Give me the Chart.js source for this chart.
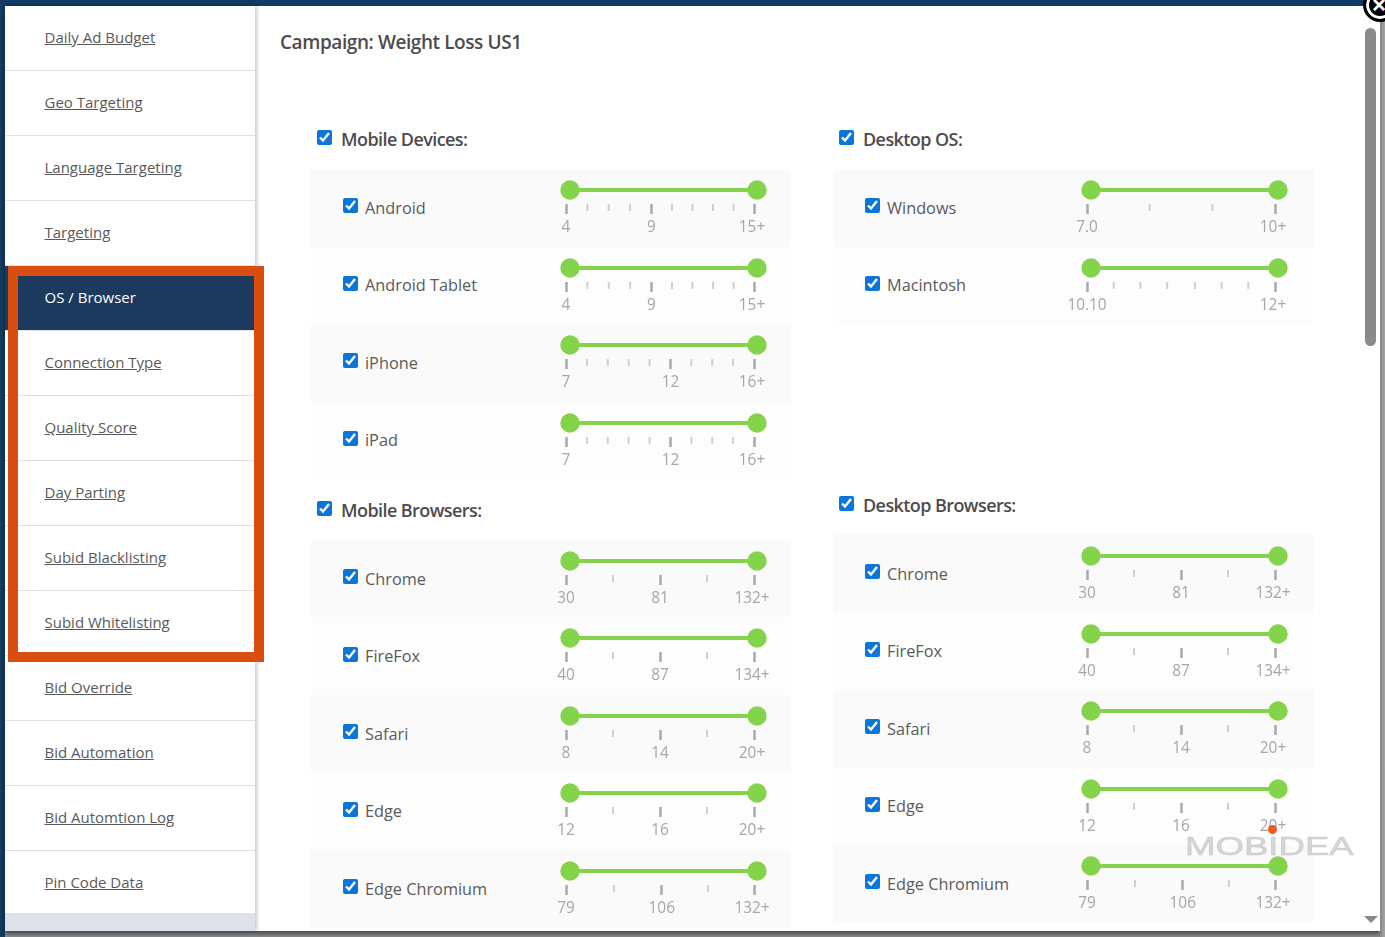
<!DOCTYPE html>
<html>
<head>
<meta charset="utf-8">
<script src="https://cdn.jsdelivr.net/npm/chart.js@4"></script>
<style>
html, body { margin: 0; padding: 0; width: 1385px; height: 937px; overflow: hidden; background: linear-gradient(#666a70, #8b8c8e); font-family: "Open Sans", sans-serif; color: #555; }
div, canvas, input, a { position: absolute; box-sizing: border-box; }
canvas { display: block; }
#topbar { left: 0; top: 0; width: 1385px; height: 7px; background: #0f3a63; }
#leftbar { left: 0; top: 0; width: 5px; height: 937px; background: #123c60; }
#modal { left: 5px; top: 6px; width: 1375px; height: 925px; background: #fff; box-shadow: 0 3px 4px rgba(0,0,0,.45); }
#sidebar { left: 5px; top: 6px; width: 250px; height: 925px; background: #dde1e9; box-shadow: 2px 0 4px rgba(0,0,0,.22); }
.item { left: 0; width: 250px; height: 65px; background: #fff; border-bottom: 1px solid #dfe1ea; }
.item a { left: 39.5px; top: 20px; font-size: 15px; line-height: 22px; color: #5a5a5a; text-decoration: underline; white-space: nowrap; }
.item.on { background: #1c3a5e; }
.item.on a { color: #fff; text-decoration: none; }
#frame { left: 8px; top: 266px; width: 256px; height: 396px; border: 10px solid #d84e10; }
#title { left: 280px; top: 28px; font-size: 19px; line-height: 28px; font-weight: 600; letter-spacing: -.42px; white-space: nowrap; color: #4c4c4c; }
.head { font-size: 18px; line-height: 26px; font-weight: 600; letter-spacing: -.58px; white-space: nowrap; color: #4c4c4c; }
.row { width: 480px; height: 78px; }
.name { font-size: 16.3px; line-height: 24px; white-space: nowrap; color: #5a5a5a; }
input { margin: 0; width: 15px; height: 15px; accent-color: #0b76d9; }
#thumb { left: 1365px; top: 28px; width: 11px; height: 318px; background: #8a8a8a; border-radius: 6px; }
#stripe { left: 1380px; top: 18px; width: 5px; height: 919px; background: linear-gradient(90deg, #868686, #a6a6a6); }
#arrow { left: 1364px; top: 916px; width: 0; height: 0; border-left: 7px solid transparent; border-right: 7px solid transparent; border-top: 7px solid #8a8a8a; }
#close { left: 1363px; top: -12px; width: 34px; height: 34px; border-radius: 50%; background: #000; border: 3px solid #000; box-shadow: inset 0 0 0 3px #fff; color: #fff; font: bold 24px/28px "Liberation Sans", sans-serif; text-align: left; padding-left: 6px; }
#mark { left: 1185px; top: 826px; font: 29px/40px "Liberation Sans", sans-serif; -webkit-text-stroke: .6px rgba(190,190,190,.7); color: rgba(190,190,190,.62); transform-origin: 0 50%; transform: scaleX(1.262) scaleY(.92); white-space: nowrap; }
#dot { left: 1268px; top: 825px; width: 9px; height: 9px; border-radius: 50%; background: #f0591f; }
</style>
</head>
<body>
<div id="topbar"></div>
<div id="leftbar"></div>
<div id="modal"></div>
<div id="sidebar"></div>
<div id="frame"></div>
<div id="title">Campaign: Weight Loss US1</div>
<div id="thumb"></div>
<div id="stripe"></div>
<div id="arrow"></div>
<div id="close">×</div>
<script>
var menuItems = ['Daily Ad Budget', 'Geo Targeting', 'Language Targeting', 'Targeting', 'OS / Browser', 'Connection Type', 'Quality Score', 'Day Parting', 'Subid Blacklisting', 'Subid Whitelisting', 'Bid Override', 'Bid Automation', 'Bid Automtion Log', 'Pin Code Data'];

var deviceNames = ['Android', 'Android Tablet', 'iPhone', 'iPad'];
var deviceMajor = [[4, 9, 15], [4, 9, 15], [7, 12, 16], [7, 12, 16]];
var deviceMinor = [
	[5.25, 6.5, 7.75, 10.2, 11.4, 12.6, 13.8],
	[5.25, 6.5, 7.75, 10.2, 11.4, 12.6, 13.8],
	[8, 9, 10, 11, 13, 14, 15],
	[8, 9, 10, 11, 13, 14, 15]
];
var deviceLabels = [['4', '9', '15+'], ['4', '9', '15+'], ['7', '12', '16+'], ['7', '12', '16+']];

var osNames = ['Windows', 'Macintosh'];
var osMajor = [[7, 10], [10.1, 12]];
var osMinor = [[8, 9], [10.37, 10.64, 10.91, 11.19, 11.46, 11.73]];
var osLabels = [['7.0', '10+'], ['10.10', '12+']];

var browserNames = ['Chrome', 'FireFox', 'Safari', 'Edge', 'Edge Chromium'];
var browserMajor = [[30, 81, 132], [40, 87, 134], [8, 14, 20], [12, 16, 20], [79, 106, 132]];
var browserMinor = [[55.5, 106.5], [63.5, 110.5], [11, 17], [14, 18], [92.5, 119]];
var browserLabels = [['30', '81', '132+'], ['40', '87', '134+'], ['8', '14', '20+'], ['12', '16', '20+'], ['79', '106', '132+']];

var green = '#83d34b';
var rowPitch = 77.6;

function addSidebar() {
	var sidebar = document.getElementById('sidebar');
	menuItems.forEach(function(label, i) {
		var item = document.createElement('div');
		item.className = 'item' + (label === 'OS / Browser' ? ' on' : '');
		item.style.top = (i * 65) + 'px';
		if (i === menuItems.length - 1) {
			item.style.height = '62px';
			item.style.borderBottom = '0';
		}
		var link = document.createElement('a');
		link.textContent = label;
		item.appendChild(link);
		sidebar.appendChild(item);
	});
}

function addCheck(left, top) {
	var box = document.createElement('input');
	box.type = 'checkbox';
	box.checked = true;
	box.style.left = left + 'px';
	box.style.top = top + 'px';
	document.body.appendChild(box);
}

function addHead(text, left, centerY) {
	addCheck(left + 5.5, centerY - 10);
	var head = document.createElement('div');
	head.className = 'head';
	head.textContent = text;
	head.style.left = (left + 30) + 'px';
	head.style.top = (centerY - 14) + 'px';
	document.body.appendChild(head);
}

function addSlider(left, top, major, minor, labels) {
	var canvas = document.createElement('canvas');
	canvas.width = 250;
	canvas.height = 78;
	canvas.style.left = (left + 230) + 'px';
	canvas.style.top = top + 'px';
	document.body.appendChild(canvas);

	var lo = major[0];
	var hi = major[major.length - 1];
	var pxPerUnit = 187 / (hi - lo);
	var thumbMin = lo - 4 / pxPerUnit;

	new Chart(canvas, {
		type: 'scatter',
		data: {
			datasets: [{
				data: [{ x: lo, y: 0.4 }, { x: hi, y: 0.4 }],
				xAxisID: 'x2',
				showLine: true,
				borderColor: green,
				borderWidth: 4,
				pointRadius: 9.7,
				pointBackgroundColor: green,
				pointBorderWidth: 0,
				clip: false
			}, {
				data: minor.map(function(v) { return { x: v, y: -0.1 }; }),
				pointStyle: 'line',
				pointRotation: 90,
				pointRadius: 3.5,
				pointBorderWidth: 2,
				pointBorderColor: '#cfcfcf',
				clip: false
			}]
		},
		options: {
			responsive: false,
			animation: false,
			events: [],
			layout: { autoPadding: false, padding: { left: 25, right: 37, top: 0, bottom: 0 } },
			plugins: { legend: false, tooltip: { enabled: false } },
			scales: {
				x: {
					type: 'linear',
					min: lo,
					max: hi,
					afterBuildTicks: function(axis) {
						axis.ticks = major.map(function(v) { return { value: v }; });
					},
					afterFit: function(axis) {
						axis.height = 43;
					},
					border: { display: false },
					grid: { drawOnChartArea: false, tickLength: 10, tickColor: '#a9a9a9', tickWidth: 2.5 },
					ticks: {
						autoSkip: false,
						maxRotation: 0,
						padding: 4,
						color: '#a6a6a6',
						font: { family: '"Open Sans"', size: 15.4 },
						// nudges the last label left of its tick, as in the slider widget
						callback: function(v, i) { return i === labels.length - 1 ? labels[i] + '\u00a0' : labels[i]; }
					}
				},
				// the thumbs sit a few pixels right of the tick marks
				x2: {
					type: 'linear',
					display: false,
					min: thumbMin,
					max: thumbMin + 188 / pxPerUnit
				},
				y: { display: false, min: 0, max: 1 }
			}
		}
	});
}

function addRow(left, rowTop, textTop, shade, sliderShift, name, major, minor, labels) {
	var row = document.createElement('div');
	row.className = 'row';
	row.style.left = left + 'px';
	row.style.top = rowTop + 'px';
	row.style.background = shade ? '#fafafa' : '#fdfdfd';
	document.body.appendChild(row);

	addCheck(left + 32, textTop + 2.5);
	var text = document.createElement('div');
	text.className = 'name';
	text.textContent = name;
	text.style.left = (left + 54) + 'px';
	text.style.top = textTop + 'px';
	document.body.appendChild(text);

	addSlider(left + sliderShift, rowTop, major, minor, labels);
}

function addGroup(left, sliderShift, rowTops, names, major, minor, labels) {
	names.forEach(function(name, i) {
		var textTop = rowTops[0] + i * rowPitch + 26.5;
		addRow(left, rowTops[i], textTop, i % 2 === 0, sliderShift, name, major[i], minor[i], labels[i]);
	});
}

addSidebar();

addHead('Mobile Devices:', 311, 140);
addGroup(311, 0, [169, 247, 324, 402], deviceNames, deviceMajor, deviceMinor, deviceLabels);
addHead('Mobile Browsers:', 311, 511);
addGroup(311, 0, [540, 617, 695, 772, 850], browserNames, browserMajor, browserMinor, browserLabels);

addHead('Desktop OS:', 833, 140);
addGroup(833, -1, [169, 247], osNames, osMajor, osMinor, osLabels);
addHead('Desktop Browsers:', 833, 506);
addGroup(833, -1, [535, 613, 690, 768, 845], browserNames, browserMajor, browserMinor, browserLabels);

var mark = document.createElement('div');
mark.id = 'mark';
mark.textContent = 'MOBIDEA';
document.body.appendChild(mark);
var dot = document.createElement('div');
dot.id = 'dot';
document.body.appendChild(dot);
</script>
</body>
</html>
